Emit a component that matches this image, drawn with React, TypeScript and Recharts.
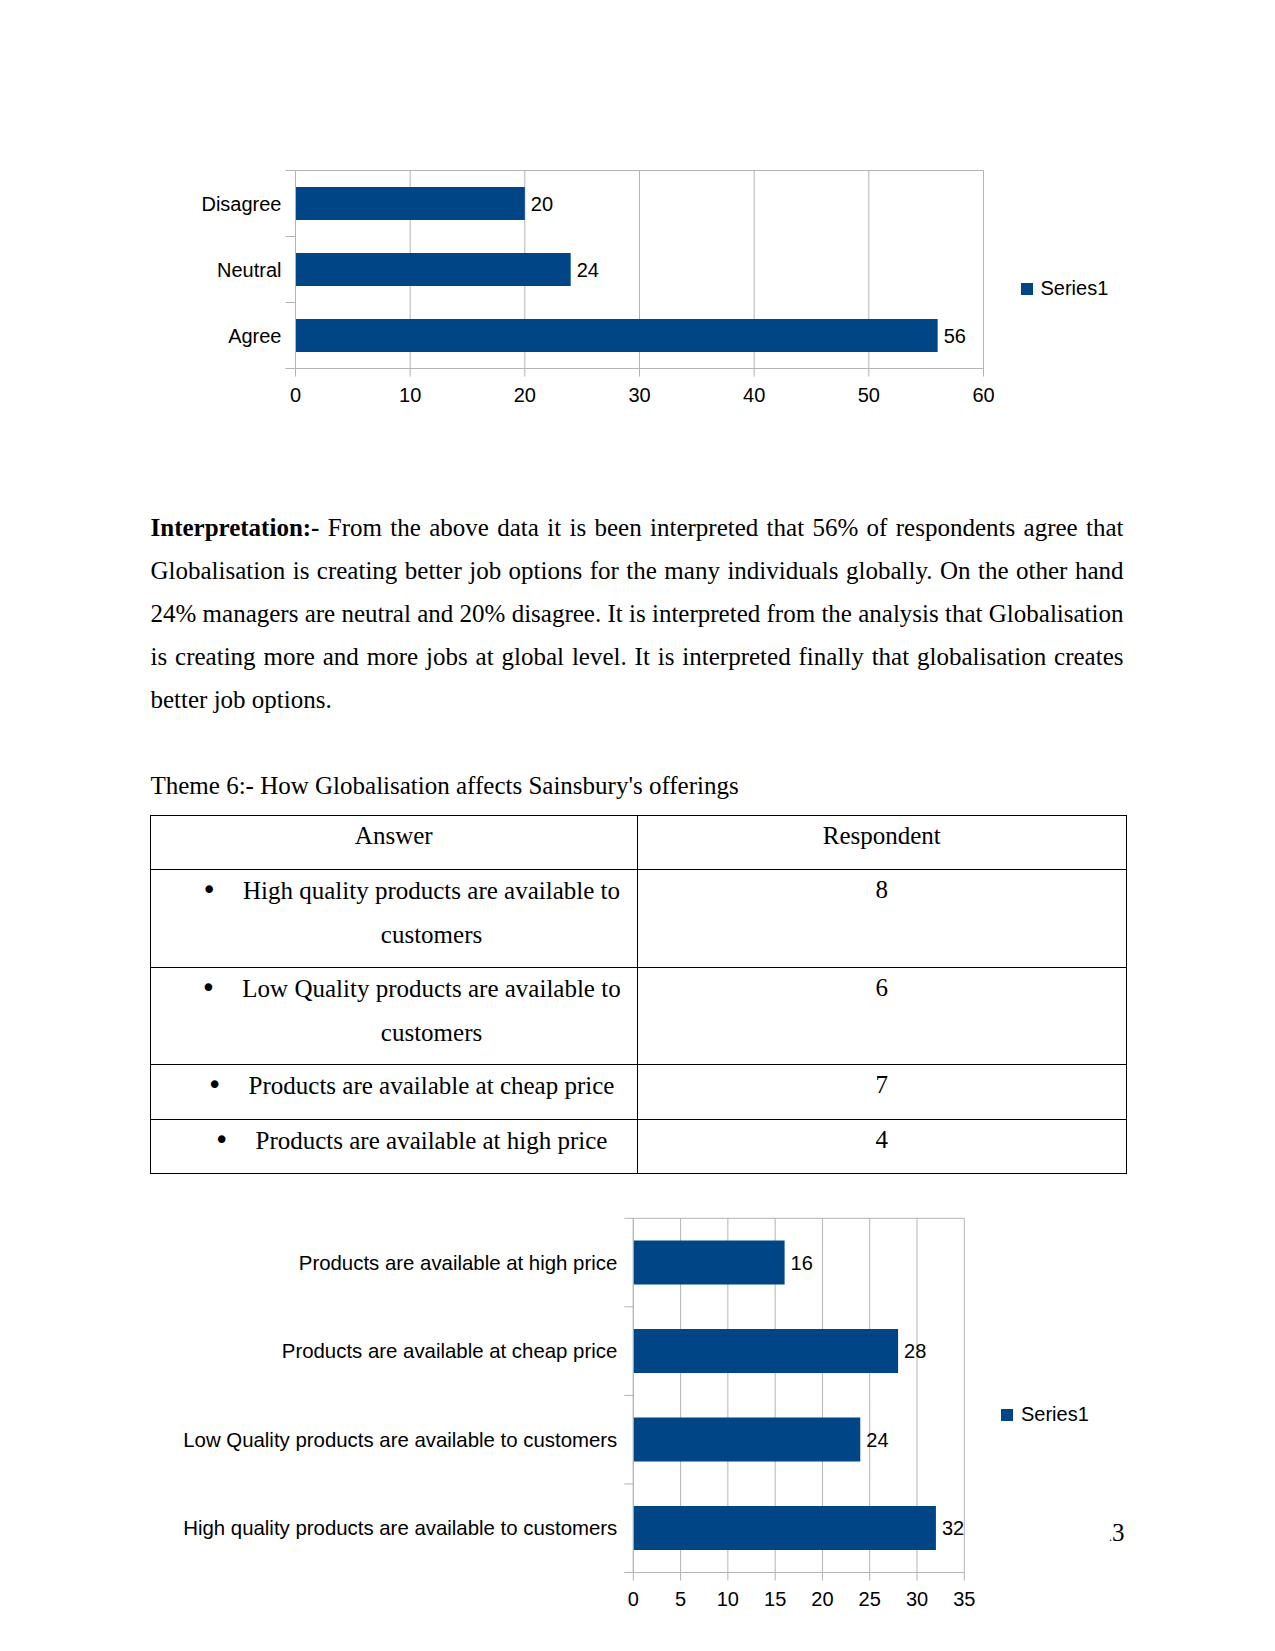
import React from 'react';
import { BarChart, Bar, XAxis, YAxis, CartesianGrid, Legend, LabelList } from 'recharts';

// chart 1: job options
const jobCategories = ['Agree', 'Neutral', 'Disagree'];
const jobValues = [56, 24, 20];
const jobTicks = [0, 10, 20, 30, 40, 50, 60];

// chart 2: Sainsbury's offerings
const offerCategories = [
  'High quality products are available to customers',
  'Low Quality products are available to customers',
  'Products are available at cheap price',
  'Products are available at high price',
];
const offerValues = [32, 24, 28, 16];
const offerTicks = [0, 5, 10, 15, 20, 25, 30, 35];

// table
const tableAnswers = [
  'High quality products are available to customers',
  'Low Quality products are available to customers',
  'Products are available at cheap price',
  'Products are available at high price',
];
const tableRespondents = [8, 6, 7, 4];

const BLUE = '#004586';
const GRID = '#b3b3b3';
const SANS = "'Liberation Sans', Arial, sans-serif";
const SERIF = "'Liberation Serif', 'Times New Roman', serif";

// label at band centre, small tick marks on the band boundaries (LibreOffice style)
const makeCatTick = (len: number, gap: number, band: number, fontSize: number) => (props: any) => {
  const { x, y, payload, index } = props;
  const ax = x + gap + len;
  return (
    <g>
      <line x1={ax - len} x2={ax} y1={y - band / 2} y2={y - band / 2} stroke={GRID} />
      {index === 0 && <line x1={ax - len} x2={ax} y1={y + band / 2} y2={y + band / 2} stroke={GRID} />}
      <text x={x} y={y} dy="0.35em" textAnchor="end" fill="#000" fontSize={fontSize} fontFamily={SANS}>
        {payload.value}
      </text>
    </g>
  );
};

type HBarProps = {
  cats: string[];
  vals: number[];
  ticks: number[];
  width: number;
  height: number;
  margin: { top: number; right: number; bottom: number; left: number };
  labelWidth: number;
  labelFont: number;
  tickLen: number;
  tickGap: number;
  legendPos: { left: number; top: number };
};

const X_AXIS_H = 40;

const HBar: React.FC<HBarProps> = ({ cats, vals, ticks, width, height, margin, labelWidth, labelFont, tickLen, tickGap, legendPos }) => {
  const data = cats.map((c, i) => ({ name: c, value: vals[i] }));
  const band = (height - margin.top - margin.bottom - X_AXIS_H) / cats.length;
  const domain = [ticks[0], ticks[ticks.length - 1]];
  return (
    <BarChart
      width={width}
      height={height}
      data={data}
      layout="vertical"
      margin={margin}
      barCategoryGap="25%"
      style={{ fontFamily: SANS }}
    >
      {/* vertical gridlines + a single top border line */}
      <CartesianGrid stroke={GRID} horizontalCoordinatesGenerator={({ offset }: any) => [offset.top]} />
      <XAxis
        type="number"
        domain={domain}
        ticks={ticks}
        interval={0}
        height={X_AXIS_H}
        stroke={GRID}
        tickSize={8}
        tickMargin={11}
        tick={{ fill: '#000', fontSize: 20, fontFamily: SANS }}
      />
      <YAxis
        type="category"
        dataKey="name"
        reversed
        interval={0}
        width={labelWidth}
        stroke={GRID}
        tickLine={false}
        tickSize={tickLen}
        tickMargin={tickGap}
        tick={makeCatTick(tickLen, tickGap, band, labelFont)}
      />
      <Legend
        layout="vertical"
        align="center"
        verticalAlign="middle"
        iconType="square"
        iconSize={12}
        wrapperStyle={{ left: legendPos.left, top: legendPos.top, fontSize: 20, fontFamily: SANS }}
        formatter={(v: any) => <span style={{ color: '#000', marginLeft: 4 }}>{v}</span>}
      />
      <Bar dataKey="value" name="Series1" fill={BLUE} isAnimationActive={false}>
        <LabelList dataKey="value" position="right" offset={6} fill="#000" fontSize={20} fontFamily={SANS} />
      </Bar>
    </BarChart>
  );
};

const paraLines: React.ReactNode[] = [
  <>
    <b>Interpretation:-</b> From the above data it is been interpreted that 56% of respondents agree that
  </>,
  'Globalisation is creating better job options for the many individuals globally. On the other hand',
  '24% managers are neutral and 20% disagree. It is interpreted from the analysis that Globalisation',
  'is creating more and more jobs at global level. It is interpreted finally that globalisation creates',
  'better job options.',
];

const rowLines = [815, 869, 967, 1064.5, 1119, 1173];

const abs = (s: React.CSSProperties): React.CSSProperties => ({ position: 'absolute', ...s });

const App: React.FC = () => {
  return (
    <div style={abs({ left: 0, top: 0, width: 1275, height: 1651, background: '#fff', fontFamily: SERIF, fontSize: 25, color: '#000' })}>
      <div style={abs({ left: 0, top: 120 })}>
        <HBar
          cats={jobCategories}
          vals={jobValues}
          ticks={jobTicks}
          width={1275}
          height={293.5}
          margin={{ top: 50.5, right: 291.5, bottom: 5, left: 195.5 }}
          labelWidth={100}
          labelFont={20}
          tickLen={10}
          tickGap={4}
          legendPos={{ left: 1020.5, top: 156.5 }}
        />
      </div>

      {paraLines.map((line, i) => (
        <div
          key={i}
          style={abs({
            left: 150.5,
            top: 506 + i * 43,
            width: 973,
            lineHeight: '43px',
            textAlign: 'justify',
            textAlignLast: i < paraLines.length - 1 ? 'justify' : 'left',
            whiteSpace: 'nowrap',
          })}
        >
          {line}
        </div>
      ))}

      <div style={abs({ left: 150.5, top: 763.5, lineHeight: '43px', whiteSpace: 'nowrap' })}>
        Theme 6:- How Globalisation affects Sainsbury's offerings
      </div>

      {/* table */}
      {rowLines.map((y, i) => (
        <div key={'h' + i} style={abs({ left: 150, top: Math.floor(y), width: 977, height: 1, background: '#000' })} />
      ))}
      {[150, 636.5, 1126].map((x, i) => (
        <div key={'v' + i} style={abs({ left: x, top: 815, width: 1, height: 359, background: '#000' })} />
      ))}
      <div style={abs({ left: 150.5, top: 813.5, width: 486.5, textAlign: 'center', lineHeight: '44px' })}>Answer</div>
      <div style={abs({ left: 637, top: 813.5, width: 489.5, textAlign: 'center', lineHeight: '44px' })}>Respondent</div>
      {tableAnswers.map((t, i) => (
        <React.Fragment key={'r' + i}>
          <div style={abs({ left: 226, top: rowLines[i + 1] - 1.5, width: 411, textAlign: 'center', lineHeight: '44px' })}>
            <span
              style={{
                display: 'inline-block',
                width: 0,
                position: 'relative',
                left: -41.5,
                fontFamily: "'DejaVu Sans', sans-serif",
                fontSize: 26,
              }}
            >
              •
            </span>
            {t}
          </div>
          <div style={abs({ left: 637, top: rowLines[i + 1] - 1.5, width: 489.5, textAlign: 'center', lineHeight: '44px' })}>
            {tableRespondents[i]}
          </div>
        </React.Fragment>
      ))}

      <div style={abs({ left: 0, top: 1180 })}>
        <HBar
          cats={offerCategories}
          vals={offerValues}
          ticks={offerTicks}
          width={1275}
          height={437.5}
          margin={{ top: 38.3, right: 310.7, bottom: 5, left: 153.3 }}
          labelWidth={480}
          labelFont={20.4}
          tickLen={9}
          tickGap={7}
          legendPos={{ left: 1001, top: 222.5 }}
        />
      </div>

      <div style={abs({ left: 1109, top: 1518, lineHeight: '30px' })}>
        <span style={{ fontSize: 12 }}>.</span>3
      </div>
    </div>
  );
};

export default App;
